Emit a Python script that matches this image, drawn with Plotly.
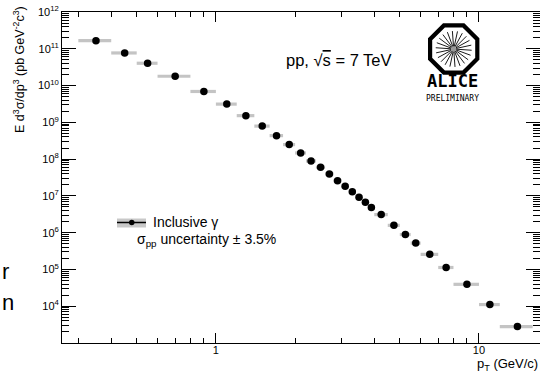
import math
import plotly.graph_objects as go

# ---- data ----
pt_lo = [0.3, 0.4, 0.5, 0.6, 0.8, 1.0, 1.2, 1.4, 1.6, 1.8, 2.0, 2.2, 2.4, 2.6, 2.8,
         3.0, 3.2, 3.4, 3.6, 3.8, 4.0, 4.5, 5.0, 5.5, 6.0, 7.0, 8.0, 10.0, 12.0]
pt_hi = [0.4, 0.5, 0.6, 0.8, 1.0, 1.2, 1.4, 1.6, 1.8, 2.0, 2.2, 2.4, 2.6, 2.8, 3.0,
         3.2, 3.4, 3.6, 3.8, 4.0, 4.5, 5.0, 5.5, 6.0, 7.0, 8.0, 10.0, 12.0, 16.0]
cross_section = [1.66e11, 7.7e10, 4.04e10, 1.79e10, 6.9e9, 3.13e9, 1.52e9, 7.9e8, 4.35e8,
                 2.48e8, 1.47e8, 8.9e7, 6.0e7, 3.96e7, 2.6e7, 1.84e7, 1.29e7, 9.2e6,
                 6.7e6, 4.87e6, 3.1e6, 1.58e6, 8.9e5, 5.2e5, 2.57e5, 1.13e5, 3.94e4,
                 1.11e4, 2.8e3]
x_ticks = [1, 10]
x_tick_labels = ["1", "10"]
y_ticks = [1e4, 1e5, 1e6, 1e7, 1e8, 1e9, 1e10, 1e11, 1e12]
y_tick_labels = ["10<sup>4</sup>", "10<sup>5</sup>", "10<sup>6</sup>", "10<sup>7</sup>",
                 "10<sup>8</sup>", "10<sup>9</sup>", "10<sup>10</sup>", "10<sup>11</sup>",
                 "10<sup>12</sup>"]

pt_c = [(a + b) / 2 for a, b in zip(pt_lo, pt_hi)]
err_plus = [b - c for b, c in zip(pt_hi, pt_c)]
err_minus = [c - a for a, c in zip(pt_lo, pt_c)]

FONT = "Liberation Sans, Arial, sans-serif"
W, H = 540, 373
L, R, T, B = 62, 540, 12, 343


def px(x):
    return (x - L) / (R - L)


def py(y):
    return (B - y) / (B - T)


fig = go.Figure()
fig.add_trace(go.Scatter(
    x=pt_c, y=cross_section, mode="markers",
    marker=dict(size=0.1, color="rgba(0,0,0,0)"),
    error_x=dict(type="data", symmetric=False, array=err_plus, arrayminus=err_minus,
                 color="#c4c4c4", thickness=3.2, width=0),
    showlegend=False, hoverinfo="skip"))
fig.add_trace(go.Scatter(
    x=pt_c, y=cross_section, mode="markers",
    marker=dict(size=7.5, color="black", symbol="circle"),
    showlegend=False))

shapes = []
annotations = []

# legend
shapes.append(dict(type="rect", xref="paper", yref="paper",
                   x0=px(117), x1=px(146), y0=py(227.5), y1=py(218.5),
                   fillcolor="#c8c8c8", line=dict(width=0), layer="above"))
shapes.append(dict(type="line", xref="paper", yref="paper",
                   x0=px(117), x1=px(146), y0=py(222.5), y1=py(222.5),
                   line=dict(color="black", width=1.5), layer="above"))
shapes.append(dict(type="circle", xref="paper", yref="paper",
                   x0=px(129), x1=px(134.5), y0=py(225.3), y1=py(219.8),
                   fillcolor="black", line=dict(width=0), layer="above"))
annotations.append(dict(text="Inclusive γ", xref="paper", yref="paper",
                        x=px(151), y=py(221.5), xanchor="left", yanchor="middle",
                        showarrow=False, font=dict(family=FONT, size=14, color="black")))
annotations.append(dict(text="σ<sub>pp</sub> uncertainty ± 3.5%", xref="paper", yref="paper",
                        x=px(135), y=py(240), xanchor="left", yanchor="middle",
                        showarrow=False, font=dict(family=FONT, size=14, color="black")))

# energy label
annotations.append(dict(text="pp, √<span style='text-decoration:overline'>s</span> = 7 TeV",
                        xref="paper", yref="paper",
                        x=px(284), y=py(60), xanchor="left", yanchor="middle",
                        showarrow=False, font=dict(family=FONT, size=16.5, color="black")))

# ALICE logo
cx, cy = 453.7, 49.0
ap = 23.6
Rc = ap / math.cos(math.radians(22.5))
pts = []
for k in range(8):
    ang = math.radians(22.5 + 45 * k)
    pts.append((cx + Rc * math.cos(ang), cy + Rc * math.sin(ang)))
path = "M " + " L ".join(f"{px(x):.5f},{py(y):.5f}" for x, y in pts) + " Z"
shapes.append(dict(type="path", path=path, xref="paper", yref="paper",
                   line=dict(color="black", width=4.2), fillcolor="white", layer="above"))
for k in range(22):
    ang = math.radians(k * 360 / 22 + 4)
    shapes.append(dict(type="line", xref="paper", yref="paper",
                       x0=px(cx + 2.5 * math.cos(ang)), y0=py(cy + 2.5 * math.sin(ang)),
                       x1=px(cx + 18 * math.cos(ang)), y1=py(cy + 18 * math.sin(ang)),
                       line=dict(color="black", width=0.9), layer="above"))
shapes.append(dict(type="circle", xref="paper", yref="paper",
                   x0=px(cx - 2.5), x1=px(cx + 2.5), y0=py(cy + 2.5), y1=py(cy - 2.5),
                   fillcolor="#999999", line=dict(width=0), layer="above"))
annotations.append(dict(text="<b>ALICE</b>", xref="paper", yref="paper",
                        x=px(452), y=py(81.5), xanchor="center", yanchor="middle",
                        showarrow=False,
                        font=dict(family="DejaVu Sans Mono, monospace", size=17, color="black")))
annotations.append(dict(text="PRELIMINARY", xref="paper", yref="paper",
                        x=px(452.5), y=py(98.5), xanchor="center", yanchor="middle",
                        showarrow=False,
                        font=dict(family="DejaVu Sans Mono, monospace", size=8, color="black")))

# axis titles
annotations.append(dict(text="E d<sup>3</sup>σ/dp<sup>3</sup> (pb GeV<sup>-2</sup>c<sup>3</sup>)",
                        xref="paper", yref="paper", textangle=-90,
                        x=px(19), y=py(70), xanchor="center", yanchor="middle",
                        showarrow=False, font=dict(family=FONT, size=12.5, color="black")))
annotations.append(dict(text="p<sub>T</sub> (GeV/c)", xref="paper", yref="paper",
                        x=px(540), y=py(364.5), xanchor="right", yanchor="middle",
                        showarrow=False, font=dict(family=FONT, size=13, color="black")))

# cropped text fragments at the left edge
annotations.append(dict(text="r", xref="paper", yref="paper",
                        x=px(0), y=py(271), xanchor="left", yanchor="middle",
                        showarrow=False, font=dict(family=FONT, size=22, color="black")))
annotations.append(dict(text="n", xref="paper", yref="paper",
                        x=px(0), y=py(302), xanchor="left", yanchor="middle",
                        showarrow=False, font=dict(family=FONT, size=22, color="black")))

fig.update_layout(
    width=W, height=H,
    margin=dict(l=L, r=W - R, t=T, b=H - B, pad=0),
    paper_bgcolor="white", plot_bgcolor="white",
    font=dict(family=FONT, size=11, color="black"),
    shapes=shapes, annotations=annotations,
    showlegend=False,
)
fig.update_xaxes(
    type="log", range=[math.log10(0.26), math.log10(17.06)],
    tickmode="array", tickvals=x_ticks, ticktext=x_tick_labels,
    ticks="inside", ticklen=10, tickcolor="black", tickwidth=1,
    ticklabelstandoff=-3,
    minor=dict(ticks="inside", ticklen=5, tickcolor="black", dtick="D1", showgrid=False),
    showline=True, linecolor="black", linewidth=1, mirror="ticks",
    showgrid=False, zeroline=False, tickfont=dict(size=11),
)
fig.update_yaxes(
    type="log", range=[3, 12],
    tickmode="array", tickvals=y_ticks, ticktext=y_tick_labels,
    ticks="inside", ticklen=14, tickcolor="black", tickwidth=1,
    minor=dict(ticks="inside", ticklen=7, tickcolor="black", dtick="D1", showgrid=False),
    showline=True, linecolor="black", linewidth=1, mirror="ticks",
    showgrid=False, zeroline=False, tickfont=dict(size=11),
)

fig.write_html("out.html")
